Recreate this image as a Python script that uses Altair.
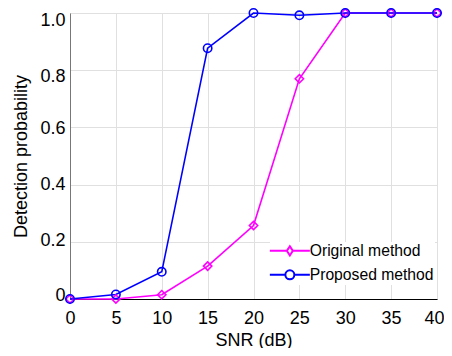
import altair as alt
import pandas as pd

snr = [0, 5, 10, 15, 20, 25, 30, 35, 40]
original = [0.0, 0.0, 0.015, 0.115, 0.257, 0.77, 1.0, 1.0, 1.0]
proposed = [0.0, 0.016, 0.095, 0.877, 1.0, 0.992, 1.0, 1.0, 1.0]
series_names = ["Original method", "Proposed method"]
series_colors = ["#ff00ff", "#0000ff"]
series_markers = ["diamond", "circle"]
y_ticks = [0, 0.2, 0.4, 0.6, 0.8, 1.0]

rows = []
for name, marker, vals in zip(series_names, series_markers, [original, proposed]):
    for s, v in zip(snr, vals):
        rows.append({"SNR": s, "P": v, "Method": name, "Marker": marker})
df = pd.DataFrame(rows)

FONT = "Liberation Sans"

# legend glyphs: line segment with the marker in its middle (unit = 5px)
circle_path = ("M-4,0L-0.9,0M0.9,0L4,0"
               "M-0.9,0A0.9,0.9,0,1,1,0.9,0A0.9,0.9,0,1,1,-0.9,0Z")
diamond_path = ("M-4,0L-0.6,0M0.6,0L4,0"
                "M0,-0.92L0.6,0L0,0.92L-0.6,0Z")
shape_expr = ("datum.value === 'Original method' ? '" + diamond_path +
              "' : '" + circle_path + "'")

x = alt.X("SNR:Q", title="SNR (dB)",
          scale=alt.Scale(domain=[0, 40], nice=False),
          axis=alt.Axis(values=snr, labelFontSize=18, titleFontSize=18,
                        labelFont=FONT, titleFont=FONT, tickSize=0,
                        labelFlush=False,
                        labelPadding=10, titlePadding=4, labelColor="black",
                        titleColor="black", titleFontWeight="normal",
                        labelOffset={"expr": "datum.value == 40 ? -3 : 0"},
                        domainColor="black", gridColor="#e0e0e0"))
y = alt.Y("P:Q", title="Detection probability",
          scale=alt.Scale(domain=[0, 1], nice=False),
          axis=alt.Axis(values=y_ticks,
                        labelExpr="datum.value == 0 ? '0' : format(datum.value, '.1f')",
                        labelOffset={"expr": "datum.value > 0.9 ? 7 : datum.value > 0.7 ? 6 : datum.value > 0.5 ? 1 : datum.value > 0.3 ? 0 : datum.value > 0.1 ? -1.5 : -3.5"},
                        labelFontSize=18, titleFontSize=18,
                        labelFont=FONT, titleFont=FONT, tickSize=0,
                        labelPadding=5, titlePadding=9, labelColor="black",
                        titleColor="black", titleFontWeight="normal",
                        domainColor="#777777", gridColor="#e0e0e0"))

color_scale = alt.Scale(domain=series_names, range=series_colors)

lines = alt.Chart(df).mark_line(strokeWidth=1.6).encode(
    x=x, y=y,
    color=alt.Color("Method:N", scale=color_scale, title=None,
                    legend=alt.Legend(
                        orient="none", legendX=200, legendY=229,
                        padding=1, fillColor="white",
                        labelFont=FONT, labelFontSize=15.7, labelColor="black",
                        symbolSize=100, symbolStrokeWidth=2,
                        symbolFillColor="white", symbolOffset=11,
                        labelOffset=12, rowPadding=6,
                        symbolType={"expr": shape_expr})),
    detail="Method:N",
    order=alt.Order("SNR:Q"),
)

points = alt.Chart(df).mark_point(filled=False, strokeWidth=1.6, opacity=1).encode(
    x=x, y=y,
    color=alt.Color("Method:N", scale=color_scale, legend=None),
    shape=alt.Shape("Marker:N", scale=None),
    size=alt.value(70),
)

chart = alt.layer(lines, points).properties(
    width=367, height=286,
    autosize=alt.AutoSizeParams(type="none"),
    padding={"left": 62, "top": 5, "right": 7, "bottom": 49},
).configure_view(stroke="black", strokeWidth=1).configure(background="white")

chart.save("out.html", embed_options={"renderer": "svg", "actions": False})
